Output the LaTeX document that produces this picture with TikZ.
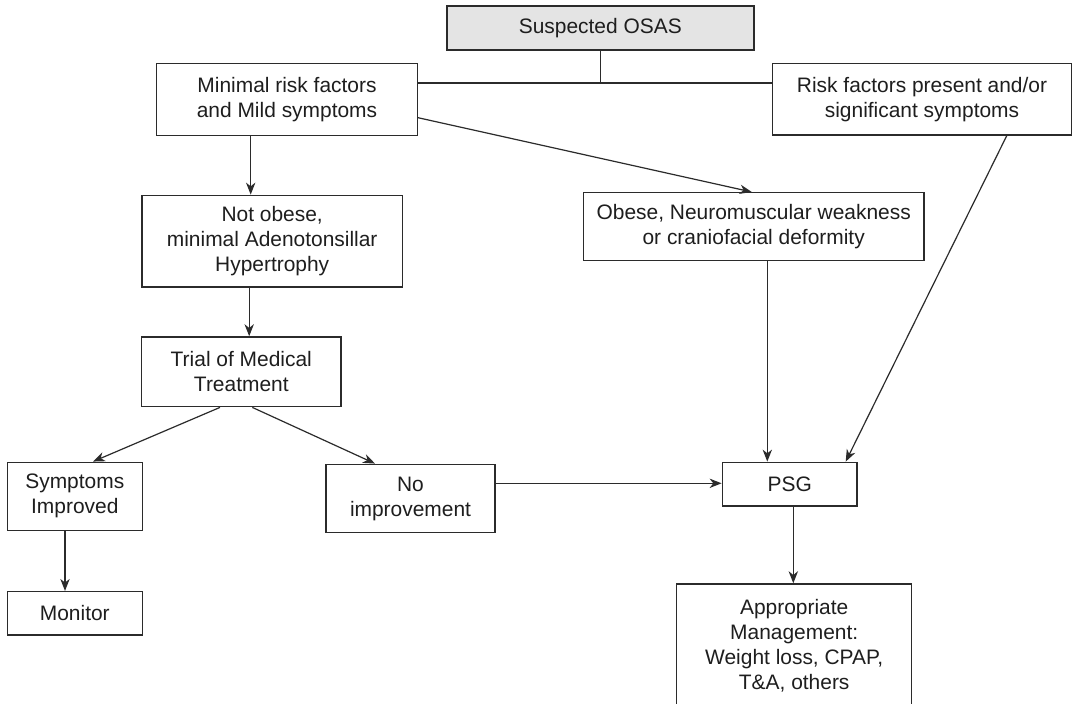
\documentclass[tikz,border=0pt]{standalone}
\usepackage{fontspec}
\setmainfont{Liberation Sans}
\usetikzlibrary{arrows.meta,calc}
\definecolor{OSLine}{HTML}{2B2B2B}
\definecolor{OSText}{HTML}{1E1E1E}
\definecolor{OSGray}{HTML}{E4E4E4}

\begin{document}
\begin{tikzpicture}[x=0.75pt,y=-0.75pt,
  box/.style={draw=OSLine,line width=1.1pt,fill=white,text=OSText,align=center,
    inner sep=0pt,font=\fontsize{15.7}{18.75}\selectfont},
  size/.style 2 args={minimum width=#1*0.75pt,minimum height=#2*0.75pt},
  arr/.style={draw=OSLine,line width=0.9pt,-{Stealth[length=9pt,width=7pt,inset=2.8pt]}},
  link/.style={draw=OSLine,line width=0.9pt}]
\path[use as bounding box] (0,0) rectangle (1073,703);
\clip (0,0) rectangle (1073,703);
\fill[white] (0,0) rectangle (1073,703);
% boxes, placed at their centres
\node[box,fill=OSGray,size={307}{44}] (osas) at (600.3,28) {Suspected OSAS};
\node[box,size={260.6}{72.4}] (minimal) at (287,99.5) {Minimal risk factors\\and Mild symptoms};
\node[box,size={299.4}{71.7}] (riskp) at (922,99.2) {Risk factors present and/or\\significant symptoms};
\node[box,size={260.3}{91.7}] (notob) at (272.2,241.2) {Not obese,\\minimal Adenotonsillar\\Hypertrophy};
\node[box,size={340.7}{68}] (obese) at (753.7,226.7) {Obese, Neuromuscular weakness\\or craniofacial deformity};
\node[box,size={199.3}{69.7}] (trial) at (241.3,371.8) {Trial of Medical\\Treatment};
\node[box,size={135}{68}] (sympt) at (74.8,496.3) {Symptoms\\Improved};
\node[box,size={169}{68.4}] (noimp) at (410.5,498.5) {No\\improvement};
\node[box,size={134.7}{43.7}] (psg) at (789.7,484.2) {PSG};
\node[box,size={135}{43.3}] (mon) at (74.8,613.3) {Monitor};
\node[box,size={235}{124}] (manage) at (794.2,646) {Appropriate\\Management:\\Weight loss, CPAP,\\T\&A, others};
% split below the top box
\coordinate (junc) at (osas.south |- 0,83);
\draw[link] (osas.south) -- (junc);
\draw[link] (junc -| minimal.east) -- (junc -| riskp.west);
% arrows
\draw[arr] ($(minimal.south)+(-36.3,0)$) coordinate (t1) -- (t1 |- notob.north);
\draw[arr] ($(minimal.east)+(0,18.2)$) -- ($(obese.north)+(-2,0)$);
\draw[arr] ($(notob.south)+(-23,0)$) coordinate (t2) -- (t2 |- trial.north);
\draw[arr] ($(obese.south)+(13.6,0)$) coordinate (t3) -- (t3 |- psg.north);
\draw[arr] ($(riskp.south)+(84.7,0)$) -- ($(psg.north)+(56,0)$);
\draw[arr] ($(trial.south)+(-21.3,0)$) -- ($(sympt.north)+(18.2,0)$);
\draw[arr] ($(trial.south)+(11,0)$) -- ($(noimp.north)+(-35.5,0)$);
\draw[arr] ($(noimp.east)+(0,-15.2)$) coordinate (t4) -- (t4 -| psg.west);
\draw[arr] ($(sympt.south)+(-9.8,0)$) coordinate (t5) -- (t5 |- mon.north);
\draw[arr] ($(psg.south)+(3.6,0)$) coordinate (t6) -- (t6 |- manage.north);
\end{tikzpicture}
\end{document}
